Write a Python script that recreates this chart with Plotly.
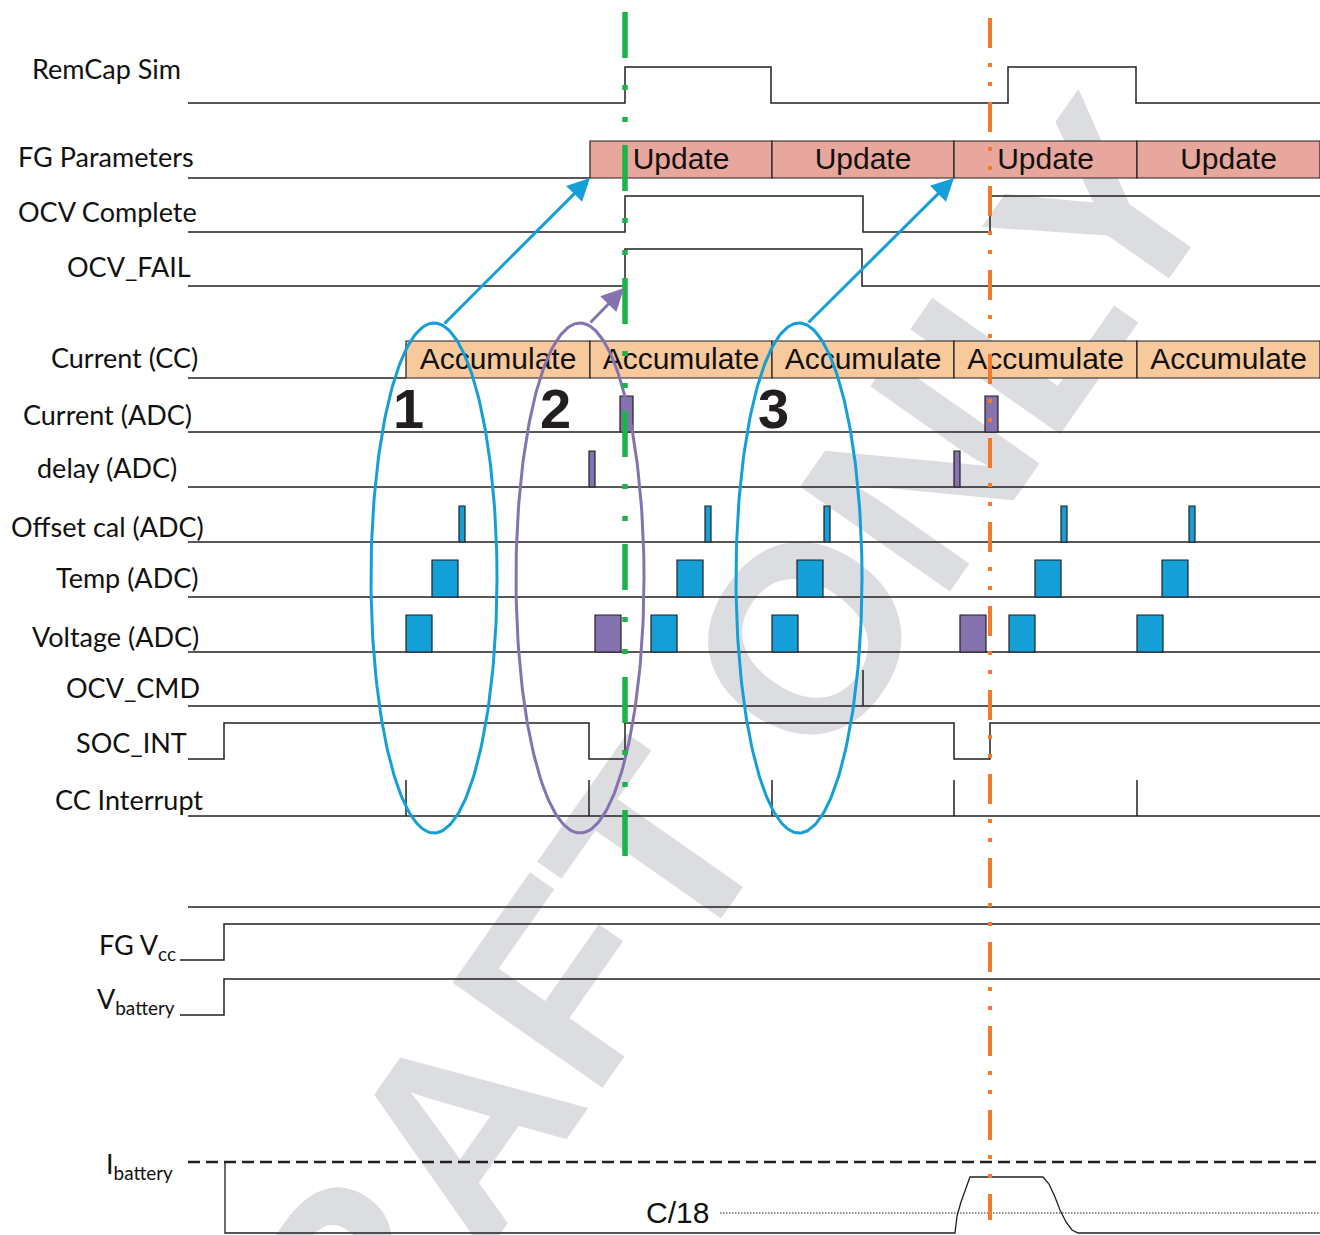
import numpy as np
import plotly.graph_objects as go

W, H = 1320, 1235
INK = "#231f20"
BLUE = "#159fd8"
PURPLE = "#8573b0"
PINK = "#e8a79c"
PEACH = "#f8c99c"
GREEN = "#1db34b"
ORANGE = "#f37a2b"
WM = "#dcdde0"
LABEL_FONT = "Lato"
BOX_FONT = "Liberation Sans"

# ---------------- data ----------------
label_text = ["RemCap Sim", "FG Parameters", "OCV Complete", "OCV_FAIL", "Current (CC)",
              "Current (ADC)", "delay (ADC)", "Offset cal (ADC)", "Temp (ADC)", "Voltage (ADC)",
              "OCV_CMD", "SOC_INT", "CC Interrupt", "FG V<sub>cc</sub>", "V<sub>battery</sub>",
              "I<sub>battery</sub>"]
label_x = [30, 16, 16, 65, 49, 21, 35, 9, 54, 30, 64, 74, 53, 97, 95, 104]
label_y = [68, 156, 211, 266, 357, 414, 467, 526, 577, 636, 687, 742, 799, 946, 1000, 1165]

# digital signals: edges (time) and levels per segment
remcap_edges = [188, 625, 771, 1008, 1136, 1320]
remcap_levels = [0, 1, 0, 1, 0]
ocvc_edges = [188, 625, 863, 990, 1320]
ocvc_levels = [0, 1, 0, 1]
ocvf_edges = [188, 625, 862, 1320]
ocvf_levels = [0, 1, 0]
socint_edges = [188, 224, 589, 625, 954, 990, 1320]
socint_levels = [0, 1, 0, 1, 0, 1]
vcc_edges = [180, 224, 1320]
vcc_levels = [0, 1]
vbat_edges = [180, 224, 1320]
vbat_levels = [0, 1]

# phase boxes
update_edges = [590, 772, 954, 1137, 1320]
update_text = ["Update", "Update", "Update", "Update"]
accum_edges = [406, 590, 772, 954, 1137, 1320]
accum_text = ["Accumulate"] * 5

# ADC pulses (start time, width)
cur_adc_start = [620, 985]
cur_adc_width = [13, 13]
delay_start = [589, 954]
delay_width = [6, 6]
offset_start = [459, 705, 824, 1061, 1189]
offset_width = [6, 6, 6, 6, 6]
temp_start = [432, 677, 797, 1035, 1162]
temp_width = [26, 26, 26, 26, 26]
volt_blue_start = [406, 651, 772, 1009, 1137]
volt_purple_start = [595, 960]
volt_width = 26

cc_int_ticks = [406, 589, 772, 954, 1137]
ocv_cmd_ticks = [863]

# I battery pulse profile
ibat_x = [225, 225, 955, 957, 961, 965, 968, 970, 1043, 1049, 1055, 1060, 1066, 1072, 1078, 1320]
ibat_y = [1162, 1233, 1233, 1216, 1202, 1191, 1182, 1177, 1177, 1184, 1197, 1210, 1222, 1230, 1233, 1233]

# event markers
green_x = 625
orange_x = 990

# groups (ellipses)
ell_cx = [434, 580, 799]
ell_cy = [578, 578, 578]
ell_rx = [63, 64, 63]
ell_ry = [255, 255, 255]
ell_color = [BLUE, PURPLE, BLUE]
group_num = ["1", "2", "3"]
group_num_x = [408, 555, 773]
group_num_y = [408, 408, 408]

arrow_from = [(443, 325), (589, 324), (807, 324)]
arrow_to = [(590, 178), (624, 288), (954, 178)]
arrow_color = [BLUE, PURPLE, BLUE]

# row geometry: (low y, high y)
ROW = {
    "remcap": (103, 67), "fgparam": (178, 141), "ocvc": (232, 196), "ocvf": (286, 249),
    "cc": (378, 341), "curadc": (432, 396), "delay": (487, 451), "offset": (542, 506),
    "temp": (597, 560), "volt": (652, 615), "ocvcmd": (706, 670), "socint": (759, 723),
    "ccint": (816, 780), "sep": (907, 907), "vcc": (960, 924), "vbat": (1015, 979),
}

fig = go.Figure()


def line(xs, ys, color=INK, width=1.5, dash=None):
    fig.add_trace(go.Scatter(x=xs, y=ys, mode="lines", hoverinfo="skip", showlegend=False,
                             line=dict(color=color, width=width, dash=dash)))


def step(edges, levels, row):
    lo, hi = ROW[row]
    xs, ys = [], []
    for i, lv in enumerate(levels):
        y = hi if lv else lo
        xs += [edges[i], edges[i + 1]]
        ys += [y, y]
    line(xs, ys)


def pulses(starts, widths, row, color):
    lo, hi = ROW[row]
    xs, ys = [], []
    for s, w in zip(starts, widths):
        xs += [s, s + w, s + w, s, s, None]
        ys += [lo, lo, hi, hi, lo, None]
    fig.add_trace(go.Scatter(x=xs, y=ys, mode="lines", fill="toself", fillcolor=color,
                             hoverinfo="skip", showlegend=False, line=dict(color=INK, width=1.2)))


shapes = []
# watermark (behind everything)
shapes.append(dict(type="rect", xref="x", yref="y", x0=560, x1=740, y0=725, y1=905, layer="below",
                   line=dict(width=0), fillcolor="rgba(0,0,0,0)",
                   label=dict(text="DRAFT ONLY", textangle=-55,
                              font=dict(family="Liberation Sans", size=266, color=WM, weight="bold"))))

# phase boxes
for edges, texts, row, col in [(update_edges, update_text, "fgparam", PINK),
                               (accum_edges, accum_text, "cc", PEACH)]:
    lo, hi = ROW[row]
    for i in range(len(texts)):
        shapes.append(dict(type="rect", xref="x", yref="y", x0=edges[i], x1=edges[i + 1], y0=hi, y1=lo,
                           layer="below", fillcolor=col, line=dict(color=INK, width=1.2)))

# box texts (drawn under the marker lines)
for edges, texts, row in [(update_edges, update_text, "fgparam"), (accum_edges, accum_text, "cc")]:
    lo, hi = ROW[row]
    cx = [(edges[i] + edges[i + 1]) / 2 for i in range(len(texts))]
    fig.add_trace(go.Scatter(x=cx, y=[(lo + hi) / 2 + 1.5] * len(texts), mode="text", text=texts,
                             textposition="middle center", hoverinfo="skip", showlegend=False,
                             textfont=dict(family=BOX_FONT, size=30, color="#111111")))

# baselines
line([188, 590], [ROW["fgparam"][0]] * 2)
line([188, 406], [ROW["cc"][0]] * 2)
for r in ["curadc", "delay", "offset", "temp", "volt", "ocvcmd", "ccint", "sep"]:
    line([188, 1320], [ROW[r][0]] * 2)

step(remcap_edges, remcap_levels, "remcap")
step(ocvc_edges, ocvc_levels, "ocvc")
step(ocvf_edges, ocvf_levels, "ocvf")
step(socint_edges, socint_levels, "socint")
step(vcc_edges, vcc_levels, "vcc")
step(vbat_edges, vbat_levels, "vbat")

# ticks
for row, ticks in [("ccint", cc_int_ticks), ("ocvcmd", ocv_cmd_ticks)]:
    lo, hi = ROW[row]
    xs, ys = [], []
    for t in ticks:
        xs += [t, t, None]
        ys += [lo, hi, None]
    line(xs, ys)

# pulses
pulses(cur_adc_start, cur_adc_width, "curadc", PURPLE)
pulses(delay_start, delay_width, "delay", PURPLE)
pulses(offset_start, offset_width, "offset", BLUE)
pulses(temp_start, temp_width, "temp", BLUE)
pulses(volt_blue_start, [volt_width] * len(volt_blue_start), "volt", BLUE)
pulses(volt_purple_start, [volt_width] * len(volt_purple_start), "volt", PURPLE)

# battery current
line([188, 1320], [1162, 1162], width=2.5, dash="12px,6px")
line([720, 1320], [1213, 1213], width=1.2, dash="1.5px,1.5px")
line(ibat_x, ibat_y, width=1.3)

# ellipses
t = np.linspace(0, 2 * np.pi, 240)
for cx, cy, rx, ry, c in zip(ell_cx, ell_cy, ell_rx, ell_ry, ell_color):
    line(cx + rx * np.cos(t), cy + ry * np.sin(t), color=c, width=3)

# event markers
line([green_x, green_x], [12, 860], color=GREEN, width=5.5, dash="46px,27px,5px,27px,5px,23px")
line([orange_x, orange_x], [18, 1220], color=ORANGE, width=4, dash="30px,15px,4px,15px,4px,16px")

ann = []
for txt, x, y in zip(label_text, label_x, label_y):
    ann.append(dict(x=x, y=y, xref="x", yref="y", text=txt, showarrow=False, xanchor="left",
                    yanchor="middle", font=dict(family=LABEL_FONT, size=27, color="#111111")))
for txt, x, y in zip(group_num, group_num_x, group_num_y):
    ann.append(dict(x=x, y=y, xref="x", yref="y", text=txt, showarrow=False,
                    font=dict(family="Liberation Sans", size=56, color=INK, weight="bold")))
ann.append(dict(x=677, y=1212, xref="x", yref="y", text="C/18", showarrow=False,
                font=dict(family="Liberation Sans", size=30, color="#111111")))
for (ax, ay), (x, y), c in zip(arrow_from, arrow_to, arrow_color):
    ann.append(dict(x=x, y=y, ax=ax, ay=ay, xref="x", yref="y", axref="x", ayref="y", text="",
                    showarrow=True, arrowhead=2, arrowsize=1.5, arrowwidth=3, arrowcolor=c))

fig.update_layout(
    width=W, height=H, margin=dict(l=0, r=0, t=0, b=0),
    paper_bgcolor="white", plot_bgcolor="white",
    xaxis=dict(range=[0, W], visible=False, fixedrange=True),
    yaxis=dict(range=[H, 0], visible=False, fixedrange=True),
    shapes=shapes, annotations=ann, showlegend=False,
)

fig.write_html("out.html", config={"displayModeBar": False},
               post_script="document.body.style.margin='0';")
